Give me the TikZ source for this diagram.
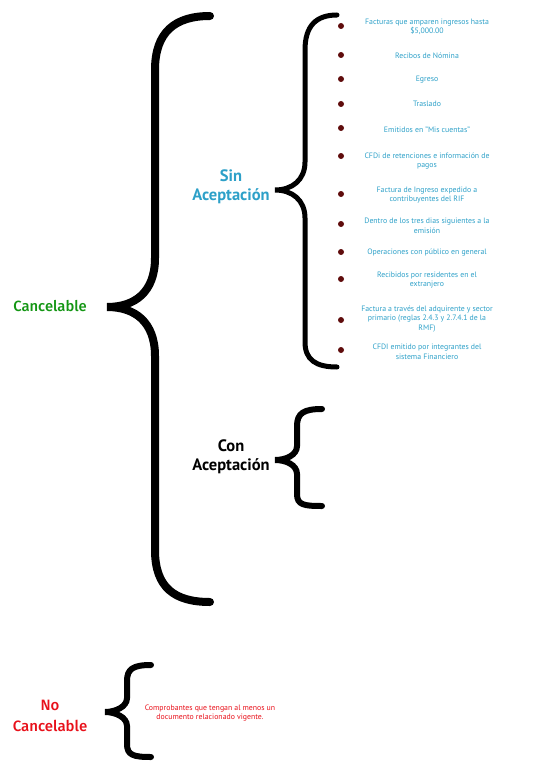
\documentclass[tikz,border=0pt]{standalone}
\usepackage{fontspec}
\setmainfont{PT Sans}
\newfontfamily\labelfont{Fira Sans Medium}
\usepackage{tikz}
\usetikzlibrary{positioning, calc}
\definecolor{greenlbl}{RGB}{20, 150, 20}
\definecolor{bluelbl}{RGB}{45, 160, 200}
\definecolor{redlbl}{RGB}{232, 16, 26}
\definecolor{dotcol}{RGB}{95, 12, 12}

\begin{document}
\begin{tikzpicture}[x=1pt, y=-1pt,
    head/.style={align=center, font=\fontsize{16.5}{19.5}\selectfont\bfseries},
    item/.style={align=center, font=\fontsize{7.8}{9.6}\selectfont, text=bluelbl, inner sep=0pt},
    dot/.style={circle, fill=dotcol, inner sep=0pt, minimum size=6pt},
    brace/.style={line width=5pt, line cap=round, line join=miter, draw=black}
]
    \useasboundingbox (0,0) rectangle (552,773);

    % Labels
    \node[font=\labelfont\fontsize{14.8}{17}\selectfont, text=greenlbl] (cancel) at (50,306) {Cancelable};
    \node[head, text=bluelbl] (sin) at (231,187) {Sin\\Aceptación};
    \node[head, text=black] (con) at (231,457) {Con\\Aceptación};
    \node[align=center, font=\labelfont\fontsize{15}{20.5}\selectfont, text=redlbl] (nocancel) at (50,716) {No\\Cancelable};
    \node[item, text=redlbl] (vigente) at (210,713) {Comprobantes que tengan al menos un\\documento relacionado vigente.};

    % Items without acceptance
    \node[dot] (d1) at (341,26) {};
    \node[item] (i1) at (427,27) {Facturas que amparen ingresos hasta\\\$5,000.00};
    \node[dot] (d2) at (341,55) {};
    \node[item] (i2) at (427,56) {Recibos de Nómina};
    \node[dot] (d3) at (341,79) {};
    \node[item] (i3) at (427,80) {Egreso};
    \node[dot] (d4) at (341,104) {};
    \node[item] (i4) at (427,104) {Traslado};
    \node[dot] (d5) at (341,128) {};
    \node[item] (i5) at (427,130) {Emitidos en "Mis cuentas"};
    \node[dot] (d6) at (341,156) {};
    \node[item] (i6) at (427,161) {CFDi de retenciones e información de\\pagos};
    \node[dot] (d7) at (341,194) {};
    \node[item] (i7) at (427,195) {Factura de Ingreso expedido a\\contribuyentes del RIF};
    \node[dot] (d8) at (341,224) {};
    \node[item] (i8) at (427,226) {Dentro de los tres dias siguientes a la\\emisión};
    \node[dot] (d9) at (341,252) {};
    \node[item] (i9) at (427,253) {Operaciones con público en general};
    \node[dot] (d10) at (341,279) {};
    \node[item] (i10) at (427,280) {Recibidos por residentes en el\\extranjero};
    \node[dot] (d11) at (341,320) {};
    \node[item] (i11) at (427,319) {Factura a través del adquirente y sector\\primario (reglas 2.4.3 y 2.7.4.1 de la\\RMF)};
    \node[dot] (d12) at (341,350) {};
    \node[item] (i12) at (427,352) {CFDI emitido por integrantes del\\sistema Financiero};

    % Brace tips and ends
    \coordinate (cancel-tip) at (107,307);
    \coordinate (sin-tip) at (275,190);
    \coordinate (con-tip) at (275,460);
    \coordinate (no-tip) at (105,712);

    % Braces
    \draw[brace, line width=8pt] (210,16) .. controls (175,16) and (155,32) .. (155,70) -- (155,258)
        .. controls (155,292) and (135,307) .. (cancel-tip)
        .. controls (135,307) and (155,322) .. (155,356) -- (155,550)
        .. controls (155,588) and (175,602) .. (210,602);
    \draw[brace] (337,15) .. controls (316,15) and (305,26) .. (305,50) -- (305,162)
        .. controls (305,180) and (292,190) .. (sin-tip)
        .. controls (292,190) and (305,200) .. (305,218) -- (305,342)
        .. controls (305,360) and (316,367) .. (337,367);
    \draw[brace, line width=6pt] (322,409) .. controls (304,409) and (297,413) .. (297,426) -- (297,446)
        .. controls (297,455) and (286,460) .. (con-tip)
        .. controls (286,460) and (297,465) .. (297,474) -- (297,494)
        .. controls (297,505) and (304,506) .. (322,506);
    \draw[brace, line width=6pt] (151,665) .. controls (133,665) and (127,669) .. (127,681) -- (127,698)
        .. controls (127,707) and (115,712) .. (no-tip)
        .. controls (115,712) and (127,717) .. (127,726) -- (127,744)
        .. controls (127,755) and (133,757) .. (151,757);
\end{tikzpicture}
\end{document}
